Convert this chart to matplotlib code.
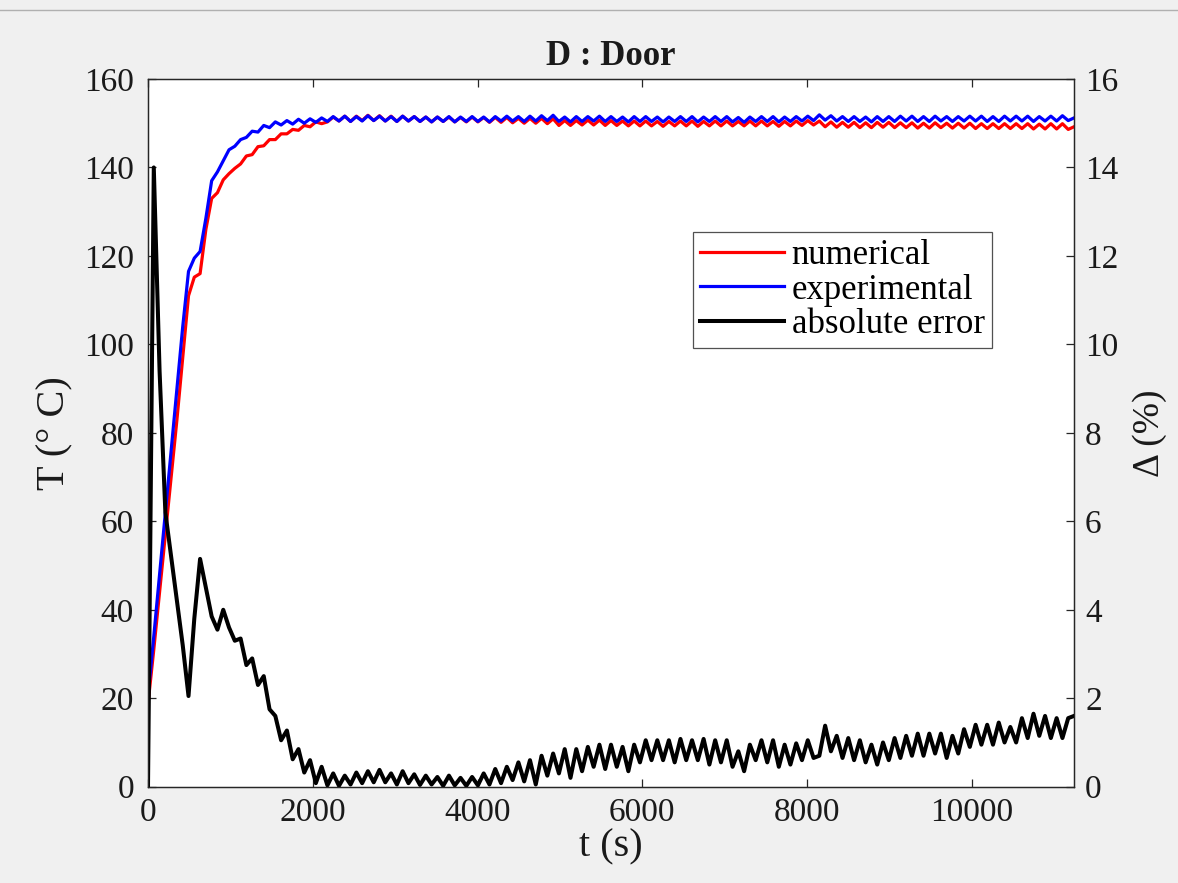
import numpy as np
import matplotlib
matplotlib.use("Agg")
import matplotlib.pyplot as plt
from matplotlib.lines import Line2D

plt.rcParams['font.family'] = ['Liberation Serif', 'DejaVu Serif']

# sampling grid (s): 161 samples, about half the oscillation period apart
t = np.linspace(0, 11240, 161)

# experimental temperature (blue), deg C
T_exp = [
    20.5, 34, 48, 62, 76, 90, 104, 116.5, 119.5, 121.0,
    128.5, 137.0, 139.0, 141.5, 144.0, 144.8, 146.3, 146.8, 148.2, 148.0,
    149.5, 149.0, 150.3, 149.6, 150.6, 149.8, 150.9, 150.0, 151.0, 150.2,
    151.2,
    150.4, 151.5, 150.5, 151.6, 150.4, 151.5, 150.5, 151.7, 150.6, 151.6,
    150.5, 151.5, 150.4, 151.6, 150.5, 151.5, 150.4, 151.4, 150.3, 151.4,
    150.4, 151.5, 150.3, 151.4, 150.4, 151.5, 150.4, 151.4, 150.3, 151.5,
    150.5, 151.6, 150.5, 151.5, 150.4, 151.6, 150.5, 151.7, 150.6, 151.8,
    150.4, 151.4, 150.3, 151.5, 150.4, 151.5, 150.5, 151.6, 150.4, 151.5,
    150.4, 151.4, 150.3, 151.5, 150.4, 151.5, 150.4, 151.4, 150.3, 151.4,
    150.4, 151.5, 150.4, 151.5, 150.3, 151.4, 150.4, 151.5, 150.4, 151.5,
    150.3, 151.3, 150.2, 151.4, 150.4, 151.5, 150.4, 151.5, 150.3, 151.4,
    150.4, 151.5, 150.5, 151.6, 150.6, 151.9, 150.7, 151.7, 150.5, 151.5,
    150.4, 151.5, 150.4, 151.4, 150.3, 151.5, 150.4, 151.5, 150.4, 151.6,
    150.5, 151.6, 150.4, 151.5, 150.4, 151.6, 150.5, 151.5, 150.4, 151.5,
    150.5, 151.6, 150.5, 151.6, 150.4, 151.5, 150.4, 151.6, 150.5, 151.6,
    150.5, 151.6, 150.4, 151.5, 150.5, 151.6, 150.5, 151.7, 150.6, 151.2,
]

# numerical temperature (red), deg C
T_num = [
    18.7, 31, 44, 57, 70, 83, 97, 111, 115.2, 116.0,
    126.0, 133.0, 134.3, 137.2, 138.6, 139.8, 140.8, 142.6, 142.9, 144.7,
    144.9, 146.3, 146.3, 147.6, 147.6, 148.6, 148.4, 149.5, 149.2, 150.3,
    149.9,
    150.3, 151.4, 150.5, 151.6, 150.4, 151.6, 150.6, 151.8, 150.6, 151.7,
    150.5, 151.6, 150.4, 151.6, 150.5, 151.5, 150.4, 151.4, 150.3, 151.4,
    150.4, 151.4, 150.3, 151.3, 150.3, 151.4, 150.3, 151.3, 150.2, 151.3,
    150.2, 151.3, 150.1, 151.1, 150.0, 151.1, 150.0, 151.1, 149.9, 151.0,
    149.5, 150.6, 149.5, 150.6, 149.6, 150.7, 149.6, 150.7, 149.5, 150.6,
    149.5, 150.5, 149.4, 150.5, 149.4, 150.5, 149.4, 150.4, 149.3, 150.4,
    149.4, 150.5, 149.4, 150.5, 149.3, 150.4, 149.4, 150.5, 149.4, 150.5,
    149.4, 150.4, 149.4, 150.5, 149.4, 150.5, 149.4, 150.4, 149.3, 150.4,
    149.4, 150.5, 149.5, 150.6, 149.6, 150.5, 149.2, 150.3, 149.1, 150.2,
    149.1, 150.2, 149.0, 150.1, 149.0, 150.2, 149.1, 150.2, 149.0, 150.1,
    149.0, 150.1, 148.9, 150.0, 148.9, 150.1, 149.0, 150.0, 148.9, 150.0,
    148.9, 150.0, 148.8, 149.9, 148.8, 149.9, 148.8, 149.9, 148.8, 149.9,
    148.8, 149.9, 148.7, 149.8, 148.7, 149.9, 148.7, 149.9, 148.6, 149.2,
]

# absolute error (black), %
err = [
    0.0, 14.0, 9.4, 6.2, 5.2, 4.2, 3.2, 2.05, 3.8, 5.15,
    4.5, 3.85, 3.55, 4.0, 3.6, 3.3, 3.35, 2.75, 2.9, 2.3,
    2.5, 1.75, 1.6, 1.05, 1.27, 0.62, 0.85, 0.32, 0.6, 0.08,
    0.45, 0.03, 0.3, 0.02, 0.25, 0.05, 0.32, 0.08, 0.35, 0.1,
    0.38, 0.1, 0.3, 0.05, 0.35, 0.08, 0.28, 0.04, 0.25, 0.05,
    0.22, 0.02, 0.25, 0.03, 0.2, 0.02, 0.22, 0.03, 0.3, 0.05,
    0.4, 0.08, 0.45, 0.15, 0.55, 0.12, 0.6, 0.05, 0.7, 0.25,
    0.75, 0.3, 0.85, 0.2, 0.85, 0.35, 0.9, 0.45, 0.95, 0.4,
    0.95, 0.45, 0.9, 0.35, 0.95, 0.55, 1.05, 0.6, 1.05, 0.6,
    1.05, 0.55, 1.08, 0.6, 1.05, 0.6, 1.08, 0.5, 1.05, 0.55,
    1.05, 0.45, 0.8, 0.35, 0.95, 0.6, 1.05, 0.55, 1.05, 0.45,
    0.95, 0.5, 0.98, 0.6, 1.05, 0.65, 0.7, 1.38, 0.8, 1.15,
    0.65, 1.1, 0.6, 1.05, 0.55, 0.95, 0.5, 1.0, 0.6, 1.1,
    0.65, 1.15, 0.7, 1.2, 0.7, 1.2, 0.75, 1.2, 0.65, 1.15,
    0.75, 1.3, 0.9, 1.4, 0.95, 1.4, 0.95, 1.45, 1.0, 1.35,
    1.0, 1.55, 1.1, 1.65, 1.15, 1.6, 1.1, 1.55, 1.1, 1.55,
    1.6,
]

fig = plt.figure(figsize=(11.78, 8.83), dpi=100, facecolor='#f0f0f0')
ax = fig.add_axes([148 / 1178, 1 - 786.7 / 883, 926 / 1178, 707.7 / 883])
ax2 = ax.twinx()

l1, = ax.plot(t, T_num, color='#ff0000', lw=2.3, label='numerical')
l2, = ax.plot(t, T_exp, color='#0000ff', lw=2.3, label='experimental')
l3, = ax2.plot(t, err, color='black', lw=2.9, label='absolute error')

ax.set_xlim(0, 11240)
ax.set_ylim(0, 160)
ax2.set_ylim(0, 16)
ax.set_xticks([0, 2000, 4000, 6000, 8000, 10000])
ax.set_yticks(np.arange(0, 161, 20))
ax2.set_yticks(np.arange(0, 17, 2))

for a in (ax, ax2):
    for s in a.spines.values():
        s.set_color('#262626')
        s.set_linewidth(0.9)
ax.tick_params(axis='x', direction='in', length=6, width=0.9, top=True,
               labelsize=24, pad=8, colors='#262626')
ax.tick_params(axis='y', direction='in', length=6, width=0.9, right=False,
               labelsize=24, pad=10, colors='#262626')
ax2.tick_params(axis='y', direction='in', length=6, width=0.9,
                labelsize=24, pad=8, colors='#262626')
for lab in ax.get_xticklabels() + ax.get_yticklabels() + ax2.get_yticklabels():
    lab.set_color('#1a1a1a')

ax.set_xlabel('t (s)', fontsize=29, labelpad=0, color='#1a1a1a')
ax.set_ylabel('T (° C)', fontsize=29, labelpad=8, color='#1a1a1a')
ax2.set_ylabel('Δ (%)', fontsize=27, labelpad=10, color='#1a1a1a', rotation=90)
ax.set_title('D : Door', fontsize=25, fontweight='bold', pad=10, color='#1a1a1a')

leg = ax2.legend(handles=[l1, l2, l3], loc='upper left',
                 bbox_to_anchor=(0.589, 0.784), fontsize=25, frameon=True,
                 fancybox=False, edgecolor='#262626', handlelength=2.4,
                 handletextpad=0.23, borderpad=0.2, labelspacing=0.05,
                 borderaxespad=0)
leg.get_frame().set_linewidth(0.9)

# thin grey rule along the top edge of the figure
fig.add_artist(Line2D([0, 1], [1 - 10 / 883, 1 - 10 / 883], color='#b0b0b0', lw=1))

fig.savefig('out.png', dpi=100, facecolor=fig.get_facecolor())
